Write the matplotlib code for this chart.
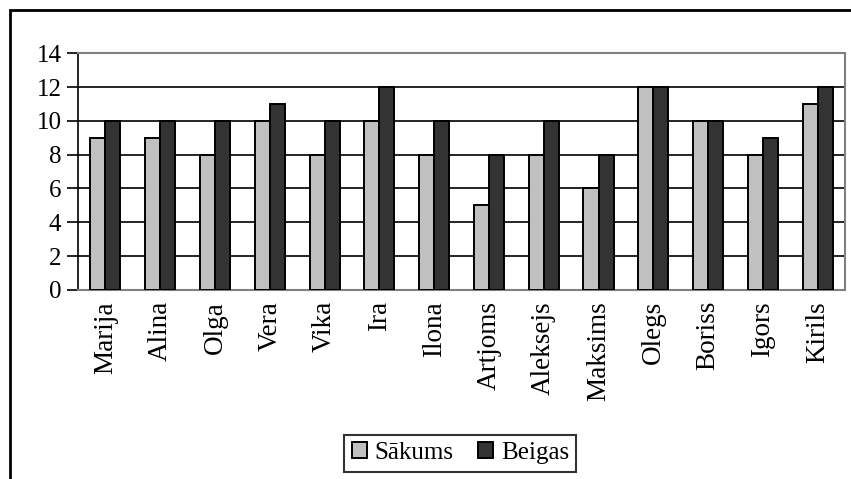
import numpy as np
import matplotlib
matplotlib.use("Agg")
import matplotlib.pyplot as plt
from matplotlib.patches import Rectangle

names = ["Marija", "Alina", "Olga", "Vera", "Vika", "Ira", "Ilona", "Artjoms",
         "Aleksejs", "Maksims", "Olegs", "Boriss", "Igors", "Kirils"]
sakums = [9, 9, 8, 10, 8, 10, 8, 5, 8, 6, 12, 10, 8, 11]
beigas = [10, 10, 10, 11, 10, 12, 10, 8, 10, 8, 12, 10, 9, 12]
yticks = [0, 2, 4, 6, 8, 10, 12, 14]

plt.rcParams['font.family'] = ['Liberation Serif', 'DejaVu Serif']
plt.rcParams['font.size'] = 18

fig = plt.figure(figsize=(8.51, 4.79), dpi=100)
ax = fig.add_axes([0.0917, 0.3946, 0.9013, 0.4944])

x = np.arange(len(names))
w = 0.275
ax.bar(x - w / 2, sakums, w, color="#c0c0c0", edgecolor="black", linewidth=1.4,
       label="Sākums", zorder=3)
ax.bar(x + w / 2, beigas, w, color="#333333", edgecolor="black", linewidth=1.4,
       label="Beigas", zorder=3)

ax.set_xlim(-0.5, len(names) - 0.5)
ax.set_ylim(0, 14)
ax.set_yticks(yticks)
ax.set_xticks(x)
ax.set_xticklabels(names, rotation=90, fontsize=19.5)
ax.tick_params(axis="x", length=0, pad=8)
ax.tick_params(axis="y", length=8, width=1.2, direction="out", pad=4)
ax.yaxis.grid(True, color="black", linewidth=1.2, zorder=0)

for s in ["top", "right", "bottom"]:
    ax.spines[s].set_color("#808080")
    ax.spines[s].set_linewidth(1.5)
ax.spines["left"].set_color("black")
ax.spines["left"].set_linewidth(1.2)

leg = fig.legend(loc="center", bbox_to_anchor=(0.541, 0.054), ncol=2,
                 frameon=True, fancybox=False, edgecolor="black",
                 handlelength=0.6, handleheight=0.6, handletextpad=0.3,
                 columnspacing=1.0, borderpad=0.3)
leg.get_frame().set_linewidth(1.5)

# outer chart border (right and bottom fall outside the picture)
fig.patches.append(Rectangle((10 / 851, -0.1), 1.1, (469 / 479) + 0.1,
                             transform=fig.transFigure, fill=False,
                             edgecolor="black", linewidth=2))

fig.savefig("out.png", dpi=100)
